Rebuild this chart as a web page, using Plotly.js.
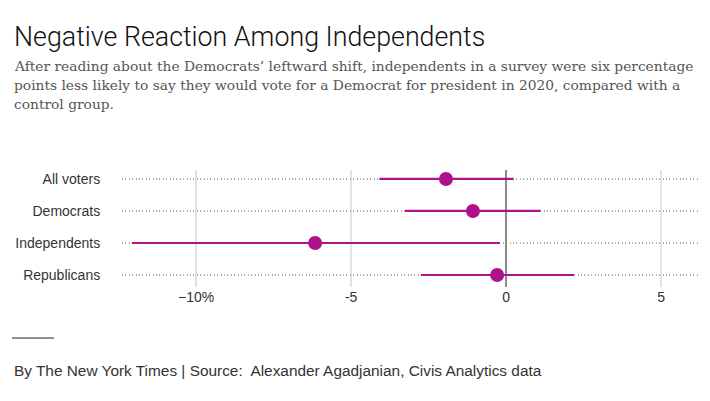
<!DOCTYPE html>
<html>
<head>
<meta charset="utf-8">
<script src="https://cdn.plot.ly/plotly-3.0.1.min.js"></script>
<style>html,body{margin:0;padding:0;background:#fff;}#chart{width:710px;height:401px;}</style>
</head>
<body>
<div id="chart"></div>
<script>
const groups = ["All voters", "Democrats", "Independents", "Republicans"];
const estimate = [-1.94, -1.07, -6.16, -0.29];
const lower = [-4.09, -3.26, -12.07, -2.75];
const upper = [0.24, 1.11, -0.2, 2.19];
const tickValues = [-10, -5, 0, 5];
const tickLabels = ["\u221210%", "-5", "0", "5"];

const W = 710, H = 401;
const L = 122, R = 12, T = 170, B = 114;
const pw = W - L - R, ph = H - T - B;
const px = x => (x - L) / pw;
const py = y => (H - B - y) / ph;

const color = "#ad128c";

const trace = {
  type: "scatter",
  mode: "markers",
  x: estimate,
  y: groups,
  marker: {color: color, size: 14},
  error_x: {
    type: "data",
    symmetric: false,
    array: upper.map((u, i) => u - estimate[i]),
    arrayminus: lower.map((l, i) => estimate[i] - l),
    color: color,
    thickness: 2.2,
    width: 0
  },
  hoverinfo: "skip",
  cliponaxis: false
};

const subFont = {family: "DejaVu Serif, Georgia, serif", size: 13.8, color: "#555"};

const layout = {
  width: W, height: H,
  margin: {l: L, r: R, t: T, b: B, pad: 0},
  paper_bgcolor: "#fff",
  plot_bgcolor: "#fff",
  showlegend: false,
  xaxis: {
    range: [-12.39, 6.19],
    tickvals: tickValues,
    ticktext: tickLabels,
    showgrid: true,
    gridcolor: "#e2e2e2",
    gridwidth: 1.5,
    zeroline: true,
    zerolinecolor: "#8a8a8a",
    zerolinewidth: 1.5,
    showline: false,
    ticks: "",
    tickfont: {family: "Liberation Sans, Arial, sans-serif", size: 14, color: "#333"},
    fixedrange: true
  },
  yaxis: {
    type: "category",
    categoryorder: "array",
    categoryarray: groups,
    range: [3.375, -0.28],
    showgrid: true,
    gridcolor: "#aaaaaa",
    griddash: "1px,2.4px",
    gridwidth: 1.2,
    zeroline: false,
    showline: false,
    ticks: "outside",
    ticklen: 18,
    tickcolor: "rgba(0,0,0,0)",
    tickfont: {family: "Liberation Sans, Arial, sans-serif", size: 14, color: "#333"},
    fixedrange: true
  },
  annotations: [
    {text: "Negative Reaction Among Independents", xref: "paper", yref: "paper",
     x: px(12), y: py(37), xanchor: "left", yanchor: "middle", showarrow: false,
     font: {family: "Roboto, Liberation Sans, sans-serif", size: 26.8, weight: 300, color: "#111"}},
    {text: "After reading about the Democrats\u2019 leftward shift, independents in a survey were six percentage", xref: "paper", yref: "paper",
     x: px(12), y: py(66), xanchor: "left", yanchor: "middle", showarrow: false, font: subFont},
    {text: "points less likely to say they would vote for a Democrat for president in 2020, compared with a", xref: "paper", yref: "paper",
     x: px(12), y: py(85), xanchor: "left", yanchor: "middle", showarrow: false, font: subFont},
    {text: "control group.", xref: "paper", yref: "paper",
     x: px(12), y: py(104), xanchor: "left", yanchor: "middle", showarrow: false, font: subFont},
    {text: "By The New York Times | Source:  Alexander Agadjanian, Civis Analytics data", xref: "paper", yref: "paper",
     x: px(12), y: py(370), xanchor: "left", yanchor: "middle", showarrow: false,
     font: {family: "Liberation Sans, Arial, sans-serif", size: 15.4, color: "#333"}}
  ],
  shapes: [
    {type: "line", xref: "paper", yref: "paper", x0: px(12), x1: px(54), y0: py(338), y1: py(338),
     line: {color: "#222", width: 1}}
  ]
};

Plotly.newPlot("chart", [trace], layout, {displayModeBar: false, staticPlot: true});
</script>
</body>
</html>
